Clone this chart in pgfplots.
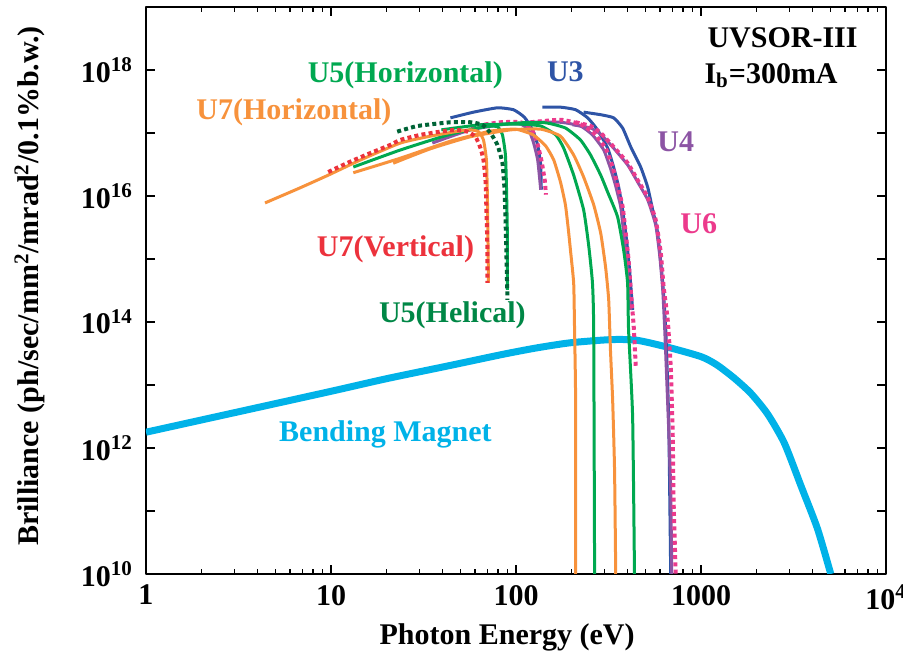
\documentclass[border=0pt]{standalone}
\usepackage{fontspec}
\setmainfont{Liberation Serif}
\usepackage{pgfplots}
\pgfplotsset{compat=1.18}
\definecolor{cOr}{RGB}{247,146,60}
\definecolor{cRd}{RGB}{236,50,60}
\definecolor{cGr}{RGB}{0,168,80}
\definecolor{cDg}{RGB}{0,100,55}
\definecolor{cDgT}{RGB}{0,135,70}
\definecolor{cBl}{RGB}{46,84,166}
\definecolor{cPu}{RGB}{140,84,164}
\definecolor{cPk}{RGB}{236,58,140}
\definecolor{cBM}{RGB}{0,178,232}
\begin{document}
\begin{tikzpicture}[font=\fontsize{15}{18}\selectfont\bfseries]
\begin{axis}[name=ax, scale only axis, width=370pt, height=283.5pt,
  xmode=log, ymode=log, xmin=1, xmax=1e4, ymin=1e10, ymax=1e19,
  xtick={1,10,100,1000,10000},
  xticklabels={1,10,100,1000,10\textsuperscript{4}},
  ytick={1e10,1e11,1e12,1e13,1e14,1e15,1e16,1e17,1e18,1e19},
  yticklabels={10\textsuperscript{10},,10\textsuperscript{12},,10\textsuperscript{14},,10\textsuperscript{16},,10\textsuperscript{18},},
  yminorticks=false,
  tick align=inside, major tick length=4.5pt, minor tick length=2.5pt,
  axis line style={line width=1pt},
  every tick/.style={black, line width=0.6pt},
  tick label style={font=\fontsize{15}{18}\selectfont\bfseries},
  yticklabel style={xshift=-3pt},
  xticklabel style={yshift=-2pt},
  label style={font=\fontsize{15}{18}\selectfont\bfseries},
  xlabel={Photon Energy (eV)},
  ylabel={Brilliance (ph/sec/mm\textsuperscript{2}/mrad\textsuperscript{2}/0.1\%b.w.)},
  xlabel style={at={(axis description cs:0.488,-0.112)}, anchor=center},
  ylabel style={at={(axis description cs:-0.157,0.508)}, anchor=center},
  line join=round,
  uline/.style={line width=1.5pt, smooth, tension=0.3},
  udot/.style={line width=2pt, dash pattern=on 2pt off 1.6pt, smooth, tension=0.3},
]
% Bending magnet
\addplot[cBM, line width=3.5pt, smooth, tension=0.4] coordinates {
(1,1.78e12) (3,3.63e12) (10,7.94e12) (20,1.26e13) (44,2.04e13) (86,3.09e13) (130,3.89e13) (197,4.68e13) (325,5.25e13) (450,5.13e13) (661,3.98e13) (1000,2.82e13) (1217,2.09e13) (1510,1.29e13) (1858,7.41e12) (2290,3.47e12) (2820,1.20e12) (3470,2.51e11) (4260,5.25e10) (5030,1.0e10)};
% U3 blue
\addplot[cBl, uline] coordinates {
(44.2,1.74e17) (58.9,2.14e17) (79.4,2.51e17) (96.9,2.34e17) (111,1.78e17) (123,1.12e17) (131,6.46e16) (136,3.09e16) (137,1.26e16)};
\addplot[cBl, uline] coordinates {
(139,2.57e17) (174,2.57e17) (210,2.34e17) (244,1.74e17) (276,1.12e17) (313,5.75e16) (337,2.88e16) (359,1.38e16) (377,6.03e15) (396,2.00e15) (411,6.76e14) (427,1.55e14)};
\addplot[cBl, uline] coordinates {
(232,2.14e17) (287,1.95e17) (337,1.74e17) (377,1.20e17) (417,6.03e16) (472,2.88e16) (515,1.38e16) (548,6.03e15) (583,2.57e15) (621,4.17e14) (645,7.41e13) (669,2.75e12) (686,1e10)};
% U4 purple
\addplot[cPu, uline] coordinates {
(35.3,6.92e16) (56.7,1.12e17) (87.7,1.38e17) (106,1.38e17) (117,1.12e17) (124,7.24e16) (131,3.72e16) (136,1.26e16)};
\addplot[cPu, uline] coordinates {
(115,1.48e17) (174,1.48e17) (223,1.29e17) (259,9.33e16) (298,5.37e16) (324,2.75e16) (345,1.48e16) (368,6.76e15) (382,2.57e15) (396,9.55e14) (406,3.24e14) (417,1.55e14)};
\addplot[cPu, uline] coordinates {
(202,1.35e17) (253,1.20e17) (287,9.55e16) (337,5.75e16) (402,3.09e16) (455,1.66e16) (515,8.71e15) (569,3.47e15) (598,1.15e15) (621,3.24e14) (637,7.41e13) (653,1.20e13) (669,1.95e12) (686,2.14e11) (695,1e10)};
% U6 pink dotted
\addplot[cPk, udot] coordinates {
(56.7,1.26e17) (82.5,1.48e17) (106,1.48e17) (120,1.20e17) (129,7.76e16) (137,3.72e16) (143,1.78e16) (145,1.05e16)};
\addplot[cPk, udot] coordinates {
(120,1.48e17) (174,1.62e17) (223,1.38e17) (263,1.00e17) (305,5.75e16) (333,2.88e16) (354,1.48e16) (377,6.76e15) (392,2.57e15) (406,9.55e14) (417,3.24e14) (433,8.32e13) (444,1.95e13)};
\addplot[cPk, udot] coordinates {
(210,1.48e17) (253,1.29e17) (287,1.00e17) (337,6.03e16) (402,3.31e16) (455,1.78e16) (515,9.55e15) (569,4.17e15) (606,1.26e15) (628,3.63e14) (661,1.07e14) (686,1.95e13) (703,1.74e12) (711,1.48e11) (730,1e10)};
% U5 horizontal green
\addplot[cGr, uline] coordinates {
(13.2,2.88e16) (23.7,5.37e16) (44.2,9.55e16) (68.4,1.26e17) (79.4,1.26e17) (84.5,9.33e16) (87.7,4.47e16) (88.9,1.26e16) (89.9,2.00e15) (89.9,3.24e14)};
\addplot[cGr, uline] coordinates {
(39.5,1.12e17) (64.3,1.35e17) (106,1.38e17) (136,1.29e17) (164,9.33e16) (181,5.75e16) (205,2.14e16) (232,6.03e15) (247,1.66e15) (259,4.17e14) (263,7.41e13) (266,1e10)};
\addplot[cGr, uline] coordinates {
(65.9,1.29e17) (106,1.45e17) (145,1.45e17) (185,1.20e17) (223,7.76e16) (253,4.47e16) (287,2.14e16) (313,1.15e16) (354,4.68e15) (382,1.38e15) (401,4.17e14) (406,7.41e13) (427,3.09e12) (437,1e10)};
% U7 horizontal orange
\addplot[cOr, uline] coordinates {
(4.4,7.76e15) (6.82,1.35e16) (9.66,2.14e16) (14.4,3.72e16) (23.7,6.92e16) (34.5,8.91e16) (47.1,1.05e17) (56.7,1.12e17) (62.7,1.05e17) (66.7,7.76e16) (69.2,3.72e16) (70.1,8.71e15) (71.0,4.17e14)};
\addplot[cOr, uline] coordinates {
(13.2,2.34e16) (23.7,3.98e16) (44.2,7.41e16) (72.8,1.07e17) (99.4,1.15e17) (124,9.33e16) (145,6.17e16) (160,3.72e16) (174,1.66e16) (185,7.24e15) (192,2.88e15) (197,1.38e15) (205,4.17e14) (207,9.55e13) (210,5.75e12) (210,1e10)};
\addplot[cOr, uline] coordinates {
(21.7,3.31e16) (34.5,5.62e16) (56.7,8.71e16) (93.4,1.12e17) (136,1.15e17) (174,8.91e16) (205,4.47e16) (232,2.00e16) (263,7.24e15) (287,2.57e15) (305,7.41e14) (317,2.24e14) (324,3.63e13) (333,5.75e12) (341,4.47e11) (346,1e10)};
% U5 helical dark green dotted
\addplot[cDg, udot] coordinates {
(22.8,1.05e17) (29.3,1.29e17) (44.2,1.48e17) (56.7,1.48e17) (65.9,1.35e17) (72.8,1.00e17) (79.4,6.46e16) (84.5,3.31e16) (86.7,1.26e16) (87.7,4.68e15) (88.9,9.55e14) (89.9,2.24e14)};
% U7 vertical red dotted
\addplot[cRd, udot] coordinates {
(9.66,2.40e16) (12.6,3.47e16) (16.3,4.79e16) (20.9,6.46e16) (23.7,7.76e16) (30.4,9.33e16) (39.0,1.05e17) (47.1,1.12e17) (54.6,1.05e17) (60.4,8.71e16) (64.3,5.75e16) (66.7,3.72e16) (68.4,1.78e16) (69.2,6.03e15) (70.1,1.38e15) (70.1,4.17e14)};
% labels
\node[text=cGr] at (axis cs:25.2,8.3e17) {U5(Horizontal)};
\node[text=cBl] at (axis cs:185,9.3e17) {U3};
\node[text=cOr] at (axis cs:6.3,2.1e17) {U7(Horizontal)};
\node[text=cPu] at (axis cs:730,7.2e16) {U4};
\node[text=cPk] at (axis cs:972,3.6e15) {U6};
\node[text=cRd] at (axis cs:22.3,1.44e15) {U7(Vertical)};
\node[text=cDgT] at (axis cs:45.3,1.26e14) {U5(Helical)};
\node[text=cBM] at (axis cs:19.7,1.66e12) {Bending Magnet};
\node[anchor=base west, inner sep=0pt] at (axis cs:1080,2.24e18) {UVSOR-III};
\node[anchor=base west, inner sep=0pt] at (axis cs:1040,6.2e17) {I\textsubscript{b}=300mA};
\end{axis}
\pgfresetboundingbox
\path[use as bounding box] ([shift={(-73pt,-41.5pt)}]ax.south west) rectangle ([shift={(8.5pt,3.5pt)}]ax.north east);
\end{tikzpicture}
\end{document}
